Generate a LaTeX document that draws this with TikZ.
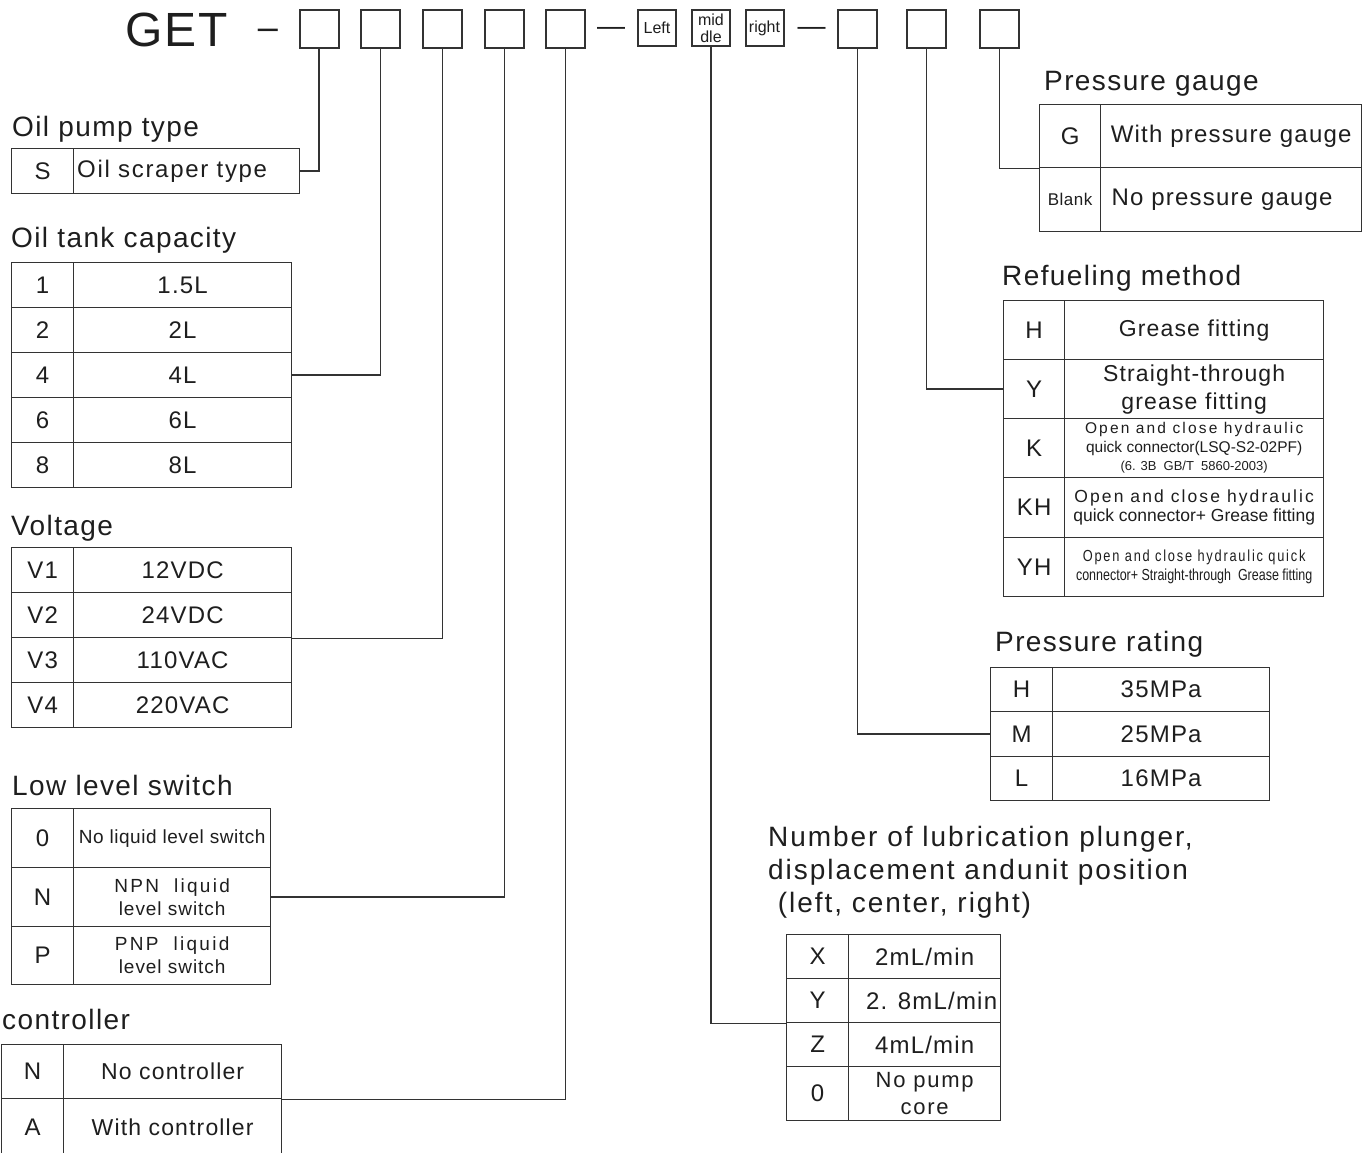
\documentclass[tikz,border=0pt]{standalone}
\usepackage{fontspec}
\setmainfont{Liberation Sans}[LetterSpace=5]
\newcommand\fsz[2]{\fontsize{#1pt}{#2pt}\selectfont}
\newcommand\lsp[1]{\addfontfeature{LetterSpace=#1}}
\definecolor{lc}{HTML}{333333}
\definecolor{tc}{HTML}{1E1E1E}
\tikzset{
  cell/.style={draw=lc, line width=1.3pt, inner sep=0pt, anchor=north west, align=center, text=tc},
  hbox/.style={draw=lc, line width=2pt, inner sep=0pt, minimum width=39pt, minimum height=38pt, text=tc, align=center},
  ttl/.style={anchor=base west, inner sep=0pt, text=tc, font=\fsz{28}{33}},
  conn/.style={draw=lc, line width=1.5pt},
  dashtxt/.style={anchor=base, inner sep=0pt, text=tc},
}
% name, x0, xdiv, x1, ytop, height, key, value, value font
\newcommand\mkrow[9]{%
  \node[cell, minimum width=#3-#2, minimum height=#6, font=\fsz{24}{28}] (#1k) at (#2,#5) {#7};
  \node[cell, minimum width=#4-#3, minimum height=#6, font=#9] (#1v) at (#3,#5) {#8};}
\begin{document}
\begin{tikzpicture}[x=1pt,y=-1pt]
\useasboundingbox[fill=white] (0,0) rectangle (1370,1153);

% header
\node[anchor=base west, inner sep=0pt, text=tc, font=\fsz{48}{54}\lsp{4}] (get) at (125,47) {GET};
\node[dashtxt, font=\fsz{36}{38}\lsp{0}] (d0) at (268,39.5) {–};
\node[hbox] (b1) at (319,29) {};
\node[hbox] (b2) at (380.5,29) {};
\node[hbox] (b3) at (442.5,29) {};
\node[hbox] (b4) at (504.5,29) {};
\node[hbox] (b5) at (565.5,29) {};
\node[dashtxt, font=\fsz{28}{30}\lsp{0}] (d1) at (611,35.7) {—};
\node[hbox, minimum width=38pt, minimum height=36pt, font=\fsz{16}{17}\lsp{0}] (bl) at (657,28) {Left};
\node[hbox, minimum width=38pt, minimum height=36pt, font=\fsz{16}{17}\lsp{0}] (bm) at (711,28) {mid\\dle};
\node[hbox, minimum width=38pt, minimum height=36pt, font=\fsz{16}{17}\lsp{0}] (br) at (764.5,28) {right};
\node[dashtxt, font=\fsz{28}{30}\lsp{0}] (d2) at (811.5,35.7) {—};
\node[hbox] (b6) at (857.5,29) {};
\node[hbox] (b7) at (926.5,29) {};
\node[hbox] (b8) at (999.5,29) {};

% Oil pump type
\node[ttl] (t1) at (12,137) {Oil pump type};
\mkrow{ps}{11}{73}{299}{148}{45}{S}{}{\fsz{24}{28}}
\node[anchor=west, inner sep=0pt, text=tc, font=\fsz{24}{28}\lsp{7}] (pst) at (77,171) {Oil scraper type};

% Oil tank capacity
\node[ttl] (t2) at (11,247) {Oil tank capacity};
\mkrow{ot1}{11}{73}{291}{262}{45}{1}{1.5L}{\fsz{24}{28}}
\mkrow{ot2}{11}{73}{291}{307}{45}{2}{2L}{\fsz{24}{28}}
\mkrow{ot4}{11}{73}{291}{352}{45}{4}{4L}{\fsz{24}{28}}
\mkrow{ot6}{11}{73}{291}{397}{45}{6}{6L}{\fsz{24}{28}}
\mkrow{ot8}{11}{73}{291}{442}{45}{8}{8L}{\fsz{24}{28}}

% Voltage
\node[ttl] (t3) at (11,535) {Voltage};
\mkrow{v1}{11}{73}{291}{547}{45}{V1}{12VDC}{\fsz{24}{28}}
\mkrow{v2}{11}{73}{291}{592}{45}{V2}{24VDC}{\fsz{24}{28}}
\mkrow{v3}{11}{73}{291}{637}{45}{V3}{110VAC}{\fsz{24}{28}}
\mkrow{v4}{11}{73}{291}{682}{45}{V4}{220VAC}{\fsz{24}{28}}

% Low level switch
\node[ttl] (t4) at (12,795) {Low level switch};
\mkrow{ll0}{11}{73}{270}{808}{59}{0}{No liquid level switch}{\fsz{19}{22}\lsp{3}}
\mkrow{llN}{11}{73}{270}{867}{59}{N}{\lsp{12}NPN\ \ liquid\\level switch}{\fsz{19}{23}\lsp{5}}
\mkrow{llP}{11}{73}{270}{926}{58}{P}{\lsp{12}PNP\ \ liquid\\level switch}{\fsz{19}{23}\lsp{5}}

% controller
\node[ttl] (t5) at (2,1029) {controller};
\mkrow{ctN}{1}{63}{281}{1044}{54}{N}{No controller}{\fsz{23}{28}}
\mkrow{ctA}{1}{63}{281}{1098}{58}{A}{With controller}{\fsz{23}{28}}

% Pressure gauge
\node[ttl] (t6) at (1044,91) {Pressure gauge};
\mkrow{pgG}{1039}{1100}{1361}{104}{63}{G}{With pressure gauge}{\fsz{24}{28}}
\mkrow{pgB}{1039}{1100}{1361}{167}{64}{\fsz{17}{20}\lsp{3}Blank}{No pressure gauge\hspace*{18pt}}{\fsz{24}{28}}

% Refueling method
\node[ttl] (t7) at (1002,285) {Refueling method};
\mkrow{rfH}{1003}{1064}{1323}{300}{59}{H}{Grease fitting}{\fsz{23}{28}}
\mkrow{rfY}{1003}{1064}{1323}{359}{59}{Y}{Straight-through\\grease fitting}{\fsz{23}{28}}
\mkrow{rfK}{1003}{1064}{1323}{418}{59}{K}{\lsp{14}Open and close hydraulic\\quick connector(LSQ-S2-02PF)\\\fsz{13}{18}(6. 3B\ \ GB/T\ \ 5860-2003)}{\fsz{15.5}{18.5}\lsp{0}}
\mkrow{rfKH}{1003}{1064}{1323}{477}{60}{KH}{\lsp{12}Open and close hydraulic\\quick connector+ Grease fitting}{\fsz{17.5}{19}\lsp{0}}
\mkrow{rfYH}{1003}{1064}{1323}{537}{59}{YH}{\scalebox{0.8}[1]{\lsp{14}Open and close hydraulic quick}\\\scalebox{0.78}[1]{connector+ Straight-through\ \ Grease fitting}}{\fsz{16}{19}\lsp{0}}

% Pressure rating
\node[ttl] (t8) at (995,651) {Pressure rating};
\mkrow{prH}{990}{1052}{1269}{667}{44}{H}{35MPa}{\fsz{24}{28}}
\mkrow{prM}{990}{1052}{1269}{711}{45}{M}{25MPa}{\fsz{24}{28}}
\mkrow{prL}{990}{1052}{1269}{756}{44}{L}{16MPa}{\fsz{24}{28}}

% Number of lubrication plunger
\node[anchor=north west, inner sep=0pt, text=tc, align=left, font=\fsz{28}{33}\lsp{7}] (t9) at (768,826) {Number of lubrication plunger,\\displacement andunit position\\\ (left, center, right)};
\mkrow{plX}{786}{848}{1000}{934}{44}{X}{2mL/min}{\fsz{24}{28}}
\mkrow{plY}{786}{848}{1000}{978}{44}{Y}{\hspace*{14pt}2. 8mL/min}{\fsz{24}{28}}
\mkrow{plZ}{786}{848}{1000}{1022}{44}{Z}{4mL/min}{\fsz{24}{28}}
\mkrow{pl0}{786}{848}{1000}{1066}{54}{0}{No pump\\core}{\fsz{22}{27}\lsp{8}}

% connectors
\draw[conn] (b1.south) |- (psv.east);
\draw[conn] (b2.south) |- (ot4v.east);
\draw[conn] (b3.south) |- (v2v.south east);
\draw[conn] (b4.south) |- (llNv.east);
\draw[conn] (b5.south) |- (ctNv.south east);
\draw[conn] (bm.south) |- (plYk.south west);
\draw[conn] (b6.south) |- (prMk.west);
\draw[conn] (b7.south) |- (rfYk.west);
\draw[conn] (b8.south) |- (pgGk.south west);
\end{tikzpicture}
\end{document}
